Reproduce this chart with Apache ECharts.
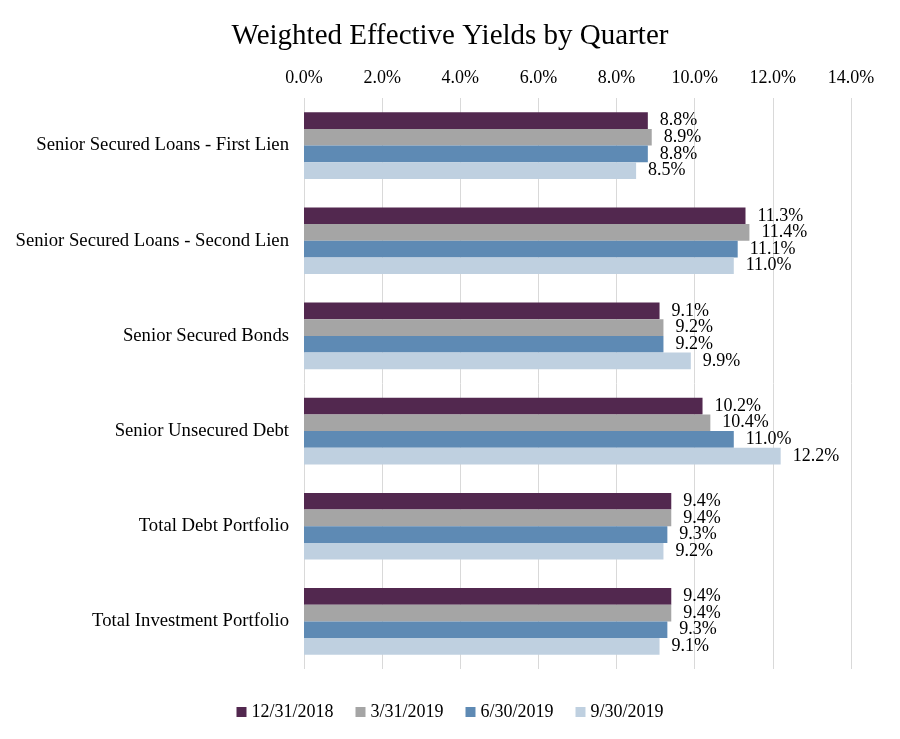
<!DOCTYPE html>
<html><head><meta charset="utf-8">
<script src="https://cdn.jsdelivr.net/npm/echarts@6/dist/echarts.min.js"></script>
<style>html,body{margin:0;padding:0;background:#fff}#c{width:900px;height:739px}</style>
</head><body><div id="c"></div>
<script>
const categories = ["Senior Secured Loans - First Lien","Senior Secured Loans - Second Lien","Senior Secured Bonds","Senior Unsecured Debt","Total Debt Portfolio","Total Investment Portfolio"];
const seriesNames = ["12/31/2018","3/31/2019","6/30/2019","9/30/2019"];
const q4_2018 = [8.8, 11.3, 9.1, 10.2, 9.4, 9.4];
const q1_2019 = [8.9, 11.4, 9.2, 10.4, 9.4, 9.4];
const q2_2019 = [8.8, 11.1, 9.2, 11.0, 9.3, 9.3];
const q3_2019 = [8.5, 11.0, 9.9, 12.2, 9.2, 9.1];
const colors = ["#52284F","#A5A5A5","#5E8AB4","#BFD0E0"];
const font = "'Liberation Serif','Times New Roman',serif";
const data = [q4_2018,q1_2019,q2_2019,q3_2019];
const chart = echarts.init(document.getElementById('c'));
chart.setOption({
  animation:false,
  textStyle:{fontFamily:font},
  title:{text:"Weighted Effective Yields by Quarter",left:'center',top:17,textStyle:{fontFamily:font,fontSize:29,fontWeight:'normal',color:'#000'}},
  grid:{left:304,right:49,top:98,bottom:70},
  xAxis:{type:'value',position:'top',min:0,max:14,interval:2,
    axisLabel:{formatter:v=>v.toFixed(1)+'%',fontFamily:font,fontSize:18,color:'#000',margin:11},
    axisLine:{show:false},axisTick:{show:false},
    splitLine:{lineStyle:{color:'#D9D9D9',width:1}}},
  yAxis:{type:'category',data:categories,inverse:true,
    axisLabel:{fontFamily:font,fontSize:18.7,color:'#000',margin:15},
    axisLine:{show:false},axisTick:{show:false}},
  legend:{bottom:13,left:'center',itemWidth:10,itemHeight:10,itemGap:22,icon:'rect',
    textStyle:{fontFamily:font,fontSize:18,color:'#000'},data:seriesNames},
  series:seriesNames.map((n,i)=>({name:n,type:'bar',data:data[i],barGap:'0%',barCategoryGap:'30%',
    itemStyle:{color:colors[i]},
    label:{show:true,position:'right',distance:12,formatter:p=>p.value.toFixed(1)+'%',fontFamily:font,fontSize:18,color:'#000'}}))
});
</script></body></html>
